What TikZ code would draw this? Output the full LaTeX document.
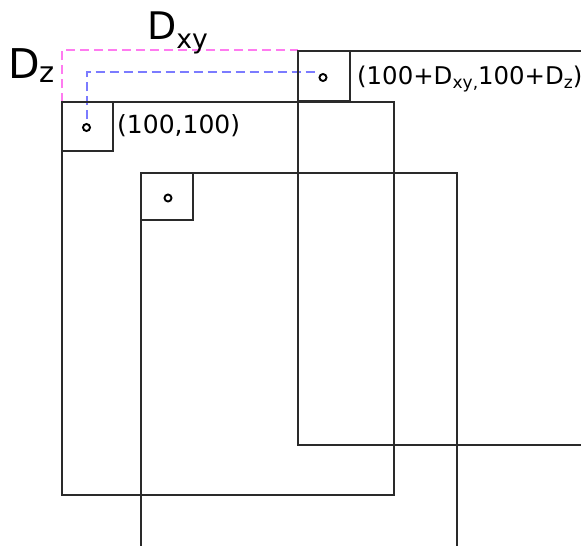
\documentclass[tikz,border=0pt]{standalone}
\usepackage{fontspec}
\setmainfont{DejaVu Sans}
% lowered subscript: #1 = drop, #2 = text
\newcommand{\subtxt}[2]{\raisebox{-#1}{\fontsize{0.7em}{0.7em}\selectfont #2}}
\definecolor{framegray}{HTML}{2A2A2A}
\definecolor{dzpink}{HTML}{FF7BF0}
\definecolor{dxyblue}{HTML}{7B7BFF}
\begin{document}
\begin{tikzpicture}[x=1pt,y=-1pt,
  frame/.style={draw=framegray,line width=2pt},
  probe/.style={draw=black,line width=1.9pt,circle,inner sep=0pt,minimum size=7pt},
  offz/.style={dzpink,line width=2pt,dash pattern=on 9pt off 5pt},
  offxy/.style={dxyblue,line width=2pt,dash pattern=on 9pt off 5pt},
  lbl/.style={inner sep=0pt,text=black}]
\useasboundingbox (0,0) rectangle (581,546);
\clip (0,0) rectangle (581,546);
\fill[white] (0,0) rectangle (581,546);

% offset guides
\draw[offz] (62,102) -- (62,50) -- (298,50);
\draw[offxy] (86.5,119) -- (86.5,72) -- (317,72);

% reference volume and its origin block
\draw[frame] (62,102) rectangle (394,495);
\draw[frame] (62,102) rectangle (113,151);
\node[probe] (p1) at (86.5,127.5) {};

% second volume
\draw[frame] (141,173) rectangle (457,560);
\draw[frame] (141,173) rectangle (193,220);
\node[probe] (p2) at (168,198) {};

% shifted volume
\draw[frame] (298,51) rectangle (600,445);
\draw[frame] (298,51) rectangle (350,101);
\node[probe] (p3) at (323,77.5) {};

% labels
\node[lbl,font=\fontsize{25}{25}\selectfont,anchor=base west] (l1) at (117,133) {(100,100)};
\node[lbl,font=\fontsize{24.4}{25}\selectfont,anchor=base west] (l2) at (357,84) {(100+D\subtxt{0.2em}{xy,}100+D\subtxt{0.2em}{z})};
\node[lbl,font=\fontsize{38}{38}\selectfont,anchor=base west] (dxy) at (147,39) {D\subtxt{0.24em}{xy}};
\node[lbl,font=\fontsize{41}{41}\selectfont,anchor=base west] (dz) at (8,78) {D\subtxt{0.1em}{z}};
\end{tikzpicture}
\end{document}
